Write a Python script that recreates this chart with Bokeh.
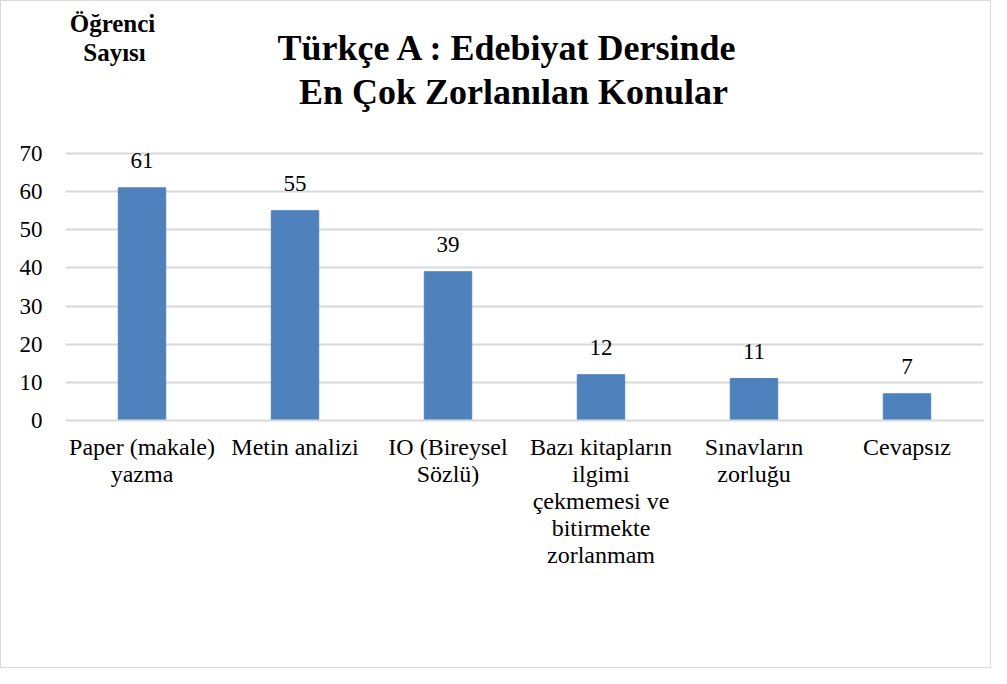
from bokeh.plotting import figure
from bokeh.models import ColumnDataSource, LabelSet, Label
from bokeh.core.properties import value
from bokeh.embed import file_html
from bokeh.resources import INLINE

categories = ["Paper (makale)\nyazma", "Metin analizi", "IO (Bireysel\nSözlü)",
              "Bazı kitapların\nilgimi\nçekmemesi ve\nbitirmekte\nzorlanmam",
              "Sınavların\nzorluğu", "Cevapsız"]
values = [61, 55, 39, 12, 11, 7]
y_ticks = [0, 10, 20, 30, 40, 50, 60, 70]
title_lines = ["Türkçe A : Edebiyat Dersinde", "En Çok Zorlanılan Konular"]
y_label_lines = ["Öğrenci", "Sayısı"]

SERIF_Q = "'Liberation Serif'"   # axes
SERIF = "Liberation Serif"       # labels
Y_TOP = 109.85  # frame extends to the top of the canvas so the title lies inside it

src = ColumnDataSource(dict(cat=categories, val=values, txt=[str(v) for v in values]))

p = figure(x_range=categories, y_range=(0, Y_TOP), width=991, height=668, title=None,
           output_backend="svg", toolbar_location=None,
           min_border_left=64, min_border_right=9, min_border_top=0, min_border_bottom=249)
p.styles = {"border": "1px solid #d9d9d9"}
p.outline_line_color = None

p.vbar(x="cat", top="val", width=0.31, source=src, color="#4f81bd")

p.add_layout(LabelSet(x="cat", y="val", text="txt", source=src, y_offset=20,
                      text_align="center", text_baseline="alphabetic",
                      text_font=value(SERIF), text_font_size=value("23px"), text_color="#000000"))

p.yaxis.ticker = y_ticks
p.yaxis.axis_line_color = None
p.yaxis.major_tick_line_color = None
p.yaxis.minor_tick_line_color = None
p.yaxis.major_label_standoff = 17
p.yaxis.major_label_text_font = SERIF_Q
p.yaxis.major_label_text_font_size = "23px"
p.yaxis.major_label_text_color = "#000000"

p.xaxis.axis_line_color = "#d9d9d9"
p.xaxis.axis_line_width = 2
p.xaxis.major_tick_line_color = None
p.xaxis.minor_tick_line_color = None
p.xaxis.major_label_standoff = 7
p.xaxis.major_label_text_font = SERIF_Q
p.xaxis.major_label_text_font_size = "24px"
p.xaxis.major_label_text_color = "#000000"
p.xaxis.major_label_text_line_height = 1.04

p.xgrid.grid_line_color = None
p.ygrid.grid_line_color = "#d9d9d9"
p.ygrid.grid_line_width = 2

# screen units are measured from the frame's bottom-left corner
for txt, xs, ys in zip(title_lines, [443, 448], [373, 329]):
    p.add_layout(Label(x=xs, y=ys, x_units="screen", y_units="screen", text=txt,
                       text_align="center", text_baseline="alphabetic",
                       text_font=SERIF, text_font_size="36px", text_font_style="bold",
                       text_color="#000000"))

for txt, xs, ys in zip(y_label_lines, [47, 49], [397, 368]):
    p.add_layout(Label(x=xs, y=ys, x_units="screen", y_units="screen", text=txt,
                       text_align="center", text_baseline="alphabetic",
                       text_font=SERIF, text_font_size="25px", text_font_style="bold",
                       text_color="#000000"))

open("out.html", "w").write(file_html(p, INLINE))
